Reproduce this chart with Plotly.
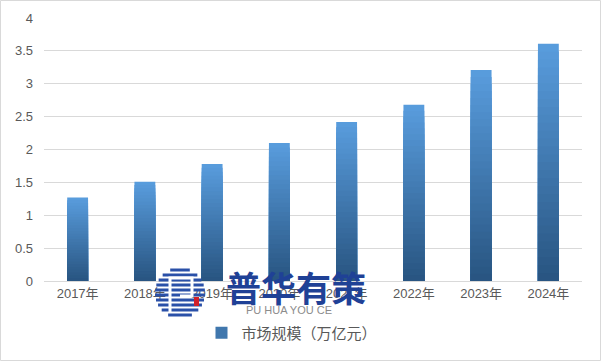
import math
import plotly.graph_objects as go

categories = ["2017年", "2018年", "2019年", "2020年", "2021年", "2022年", "2023年", "2024年"]
values = [1.27, 1.51, 1.78, 2.10, 2.42, 2.68, 3.21, 3.61]
series_name = "市场规模（万亿元）"
y_ticks = [0, 0.5, 1, 1.5, 2, 2.5, 3, 3.5, 4]
y_ticktext = ["0", "0.5", "1", "1.5", "2", "2.5", "3", "3.5", "4"]

TOP = (89, 157, 222)
BOT = (40, 84, 128)
N = 30

W, H = 601, 361
L, R, T, B = 44, 19, 18, 80
pw, ph = W - L - R, H - T - B


def px_x(p):
    return (p - L) / pw


def px_y(p):
    return (T + ph - p) / ph


fig = go.Figure()
for k in range(N):
    t = (k + 0.5) / N
    c = tuple(round(TOP[i] + (BOT[i] - TOP[i]) * t) for i in range(3))
    frac = 1 - k / N
    fig.add_trace(go.Bar(
        x=categories,
        y=[v * frac for v in values],
        name=series_name,
        marker=dict(color="rgb(%d,%d,%d)" % c, line=dict(width=0)),
        showlegend=(k == N // 2),
        hoverinfo="skip",
        width=0.31,
    ))

font_fam = "Liberation Sans, Noto Sans CJK SC, sans-serif"
shapes = [dict(type="rect", xref="paper", yref="paper",
               x0=px_x(0.5), x1=px_x(W - 0.5), y0=px_y(H - 0.5), y1=px_y(0.5),
               line=dict(color="#d9d9d9", width=1), fillcolor="rgba(0,0,0,0)", layer="below")]

# watermark logo: striped circle
cx, cy, r = 180, 293, 25
for dy in range(-23, 24, 5):
    hc = math.sqrt(max(r * r - dy * dy, 0))
    shapes.append(dict(type="line", xref="paper", yref="paper",
                       x0=px_x(cx - hc), x1=px_x(cx + hc), y0=px_y(cy + dy), y1=px_y(cy + dy),
                       line=dict(color="#2a50a8", width=3), layer="above"))
# white "P"-like cut
shapes.append(dict(type="path", xref="paper", yref="paper", layer="above",
                   path="M %f %f L %f %f L %f %f L %f %f L %f %f" % (
                       px_x(170), px_y(312), px_x(170), px_y(278), px_x(192), px_y(278),
                       px_x(192), px_y(296), px_x(180), px_y(296)),
                   line=dict(color="white", width=3)))
shapes.append(dict(type="rect", xref="paper", yref="paper", layer="above",
                   x0=px_x(194), x1=px_x(199), y0=px_y(306), y1=px_y(297),
                   line=dict(width=0), fillcolor="#d0202a"))

fig.update_layout(
    width=W, height=H,
    margin=dict(l=L, r=R, t=T, b=B),
    barmode="overlay",
    plot_bgcolor="white", paper_bgcolor="white",
    font=dict(family=font_fam, size=13, color="#595959"),
    showlegend=True,
    legend=dict(orientation="h", x=px_x(292), xanchor="center", y=px_y(333), yanchor="middle",
                font=dict(family="Noto Sans CJK SC, sans-serif", size=15, color="#595959"),
                itemwidth=30),
    xaxis=dict(type="category", showgrid=False, showline=True, linecolor="#d9d9d9", linewidth=1,
               ticks="", tickfont=dict(size=13, color="#595959")),
    yaxis=dict(range=[0, 4], tickvals=y_ticks, ticktext=y_ticktext, showgrid=True,
               gridcolor="#d9d9d9", gridwidth=1, zeroline=False, showline=False, ticks="",
               ticklabelstandoff=10, tickfont=dict(size=13, color="#595959")),
    shapes=shapes,
    annotations=[
        dict(text="<b>普华有策</b>", xref="paper", yref="paper",
             x=px_x(296), y=px_y(286), xanchor="center", yanchor="middle",
             showarrow=False, font=dict(family="Noto Sans CJK SC, sans-serif", size=35, color="#1f4196")),
        dict(text="PU HUA YOU CE", xref="paper", yref="paper",
             x=px_x(289), y=px_y(310), xanchor="center", yanchor="middle",
             showarrow=False, font=dict(family="Liberation Sans, sans-serif", size=11, color="#8c8c8c")),
    ],
)

fig.write_html("out.html", config={"displayModeBar": False},
               post_script="document.body.style.margin='0px';")
